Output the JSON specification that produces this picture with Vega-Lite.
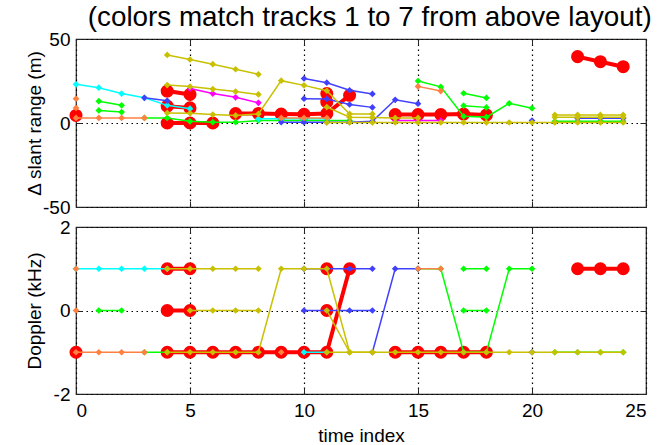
{
  "$schema": "https://vega.github.io/schema/vega-lite/v6.json",
  "padding": {"left": 24, "top": 3, "right": 0, "bottom": 0},
  "background": "white",
  "bounds": "flush",
  "title": {"text": "(colors match tracks 1 to 7 from above layout)", "fontSize": 27.8, "font": "Liberation Sans", "fontWeight": "normal", "color": "#000", "offset": -2, "anchor": "middle", "dx": 34},
  "config": {
    "view": {"stroke": "#262626", "strokeWidth": 1.2},
    "axis": {"domain": false, "tickColor": "#262626", "tickSize": -6, "labelFont": "Liberation Sans", "labelFontSize": 19, "labelColor": "#000", "labelExpr": "replace(datum.label, '\u2212', '-')", "titleFont": "Liberation Sans", "titleFontSize": 19, "titleFontWeight": "normal", "titleColor": "#000", "gridColor": "#000", "gridDash": [1.5, 3.5], "gridWidth": 1.2, "gridOpacity": 1}
  },
  "spacing": 20,
  "datasets": {
    "rng": [
      {"k":"7","s":"r0","t":0,"v":4.5},
      {"k":"7","s":"r1","t":4,"v":19},{"k":"7","s":"r1","t":5,"v":17},
      {"k":"7","s":"r2","t":4,"v":10},{"k":"7","s":"r2","t":5,"v":9},
      {"k":"7","s":"r3","t":4,"v":0},{"k":"7","s":"r3","t":5,"v":0},{"k":"7","s":"r3","t":6,"v":0},
      {"k":"7","s":"r4","t":7,"v":5.6},{"k":"7","s":"r4","t":8,"v":5.6},{"k":"7","s":"r4","t":9,"v":5.3},{"k":"7","s":"r4","t":10,"v":5.2},{"k":"7","s":"r4","t":11,"v":5.6},{"k":"7","s":"r4","t":12,"v":16.5},
      {"k":"7","s":"r5","t":11,"v":17.5},
      {"k":"7","s":"r6","t":11,"v":12.5},
      {"k":"7","s":"r7","t":14,"v":5},{"k":"7","s":"r7","t":15,"v":5},{"k":"7","s":"r7","t":16,"v":5},{"k":"7","s":"r7","t":17,"v":5.3},{"k":"7","s":"r7","t":18,"v":4.8},
      {"k":"7","s":"r8","t":22,"v":39.5},{"k":"7","s":"r8","t":23,"v":36.5},{"k":"7","s":"r8","t":24,"v":33.5},
      {"k":"3","s":"g1","t":1,"v":13},{"k":"3","s":"g1","t":2,"v":10.5},
      {"k":"3","s":"g2","t":1,"v":7.5},{"k":"3","s":"g2","t":2,"v":6.5},
      {"k":"3","s":"g3","t":3,"v":3},{"k":"3","s":"g3","t":4,"v":3},{"k":"3","s":"g3","t":5,"v":1},{"k":"3","s":"g3","t":6,"v":0.5},{"k":"3","s":"g3","t":7,"v":0.5},{"k":"3","s":"g3","t":8,"v":1.5},{"k":"3","s":"g3","t":9,"v":1.5},{"k":"3","s":"g3","t":10,"v":1.5},{"k":"3","s":"g3","t":11,"v":1.5},{"k":"3","s":"g3","t":12,"v":1.5},
      {"k":"3","s":"g4","t":15,"v":25},{"k":"3","s":"g4","t":16,"v":21.5},{"k":"3","s":"g4","t":17,"v":4},{"k":"3","s":"g4","t":18,"v":3.5},{"k":"3","s":"g4","t":19,"v":11.7},{"k":"3","s":"g4","t":20,"v":8.8},
      {"k":"3","s":"g5","t":17,"v":17.7},{"k":"3","s":"g5","t":18,"v":14.9},
      {"k":"3","s":"g6","t":17,"v":10.3},{"k":"3","s":"g6","t":18,"v":9.3},
      {"k":"3","s":"g7","t":21,"v":1},{"k":"3","s":"g7","t":22,"v":1},{"k":"3","s":"g7","t":23,"v":1},{"k":"3","s":"g7","t":24,"v":1},
      {"k":"1","s":"c1","t":0,"v":23},{"k":"1","s":"c1","t":1,"v":21},{"k":"1","s":"c1","t":2,"v":17.5},{"k":"1","s":"c1","t":3,"v":15},{"k":"1","s":"c1","t":4,"v":10.5},{"k":"1","s":"c1","t":5,"v":8.5},
      {"k":"1","s":"c3","t":8,"v":2.5},{"k":"1","s":"c3","t":9,"v":2.5},{"k":"1","s":"c3","t":10,"v":2.5},{"k":"1","s":"c3","t":11,"v":2.5},
      {"k":"2","s":"b0","t":3,"v":15},{"k":"2","s":"b0","t":4,"v":13.3},
      {"k":"2","s":"b1","t":10,"v":26.5},{"k":"2","s":"b1","t":11,"v":24},{"k":"2","s":"b1","t":12,"v":19.5},{"k":"2","s":"b1","t":13,"v":17.3},
      {"k":"2","s":"b2","t":10,"v":14.5},{"k":"2","s":"b2","t":11,"v":14.3},{"k":"2","s":"b2","t":12,"v":11},{"k":"2","s":"b2","t":13,"v":9.3},
      {"k":"2","s":"b3","t":9,"v":0.5},{"k":"2","s":"b3","t":10,"v":0.5},{"k":"2","s":"b3","t":11,"v":0.5},{"k":"2","s":"b3","t":12,"v":0.5},{"k":"2","s":"b3","t":13,"v":1},{"k":"2","s":"b3","t":14,"v":13.8},{"k":"2","s":"b3","t":15,"v":11.5},
      {"k":"2","s":"b4","t":20,"v":1.5},
      {"k":"2","s":"b5","t":22,"v":2.8},{"k":"2","s":"b5","t":23,"v":2.8},{"k":"2","s":"b5","t":24,"v":2.8},
      {"k":"4","s":"m1","t":5,"v":20.5},{"k":"4","s":"m1","t":6,"v":17.5},{"k":"4","s":"m1","t":7,"v":15.3},{"k":"4","s":"m1","t":8,"v":12},
      {"k":"4","s":"m2","t":14,"v":1.5},{"k":"4","s":"m2","t":15,"v":1.5},{"k":"4","s":"m2","t":16,"v":1.5},
      {"k":"5","s":"o0","t":0,"v":14.5},
      {"k":"5","s":"o1","t":0,"v":9},
      {"k":"5","s":"o2","t":0,"v":3},{"k":"5","s":"o2","t":1,"v":3},{"k":"5","s":"o2","t":2,"v":3},{"k":"5","s":"o2","t":3,"v":3},
      {"k":"5","s":"o3","t":9,"v":3},{"k":"5","s":"o3","t":10,"v":3},{"k":"5","s":"o3","t":11,"v":3},
      {"k":"5","s":"o4","t":15,"v":21.8},{"k":"5","s":"o4","t":16,"v":19},
      {"k":"6","s":"y1","t":4,"v":40.5},{"k":"6","s":"y1","t":5,"v":37.8},{"k":"6","s":"y1","t":6,"v":35},{"k":"6","s":"y1","t":7,"v":32},{"k":"6","s":"y1","t":8,"v":29},
      {"k":"6","s":"y2","t":4,"v":22.6},{"k":"6","s":"y2","t":5,"v":21.7},{"k":"6","s":"y2","t":6,"v":20.2},{"k":"6","s":"y2","t":7,"v":18.7},{"k":"6","s":"y2","t":8,"v":17},
      {"k":"6","s":"y3","t":4,"v":6},{"k":"6","s":"y3","t":5,"v":5.8},{"k":"6","s":"y3","t":6,"v":5},{"k":"6","s":"y3","t":7,"v":4.5},{"k":"6","s":"y3","t":8,"v":5.4},{"k":"6","s":"y3","t":9,"v":25.2},{"k":"6","s":"y3","t":10,"v":22.4},{"k":"6","s":"y3","t":11,"v":19.2},{"k":"6","s":"y3","t":12,"v":5.4},{"k":"6","s":"y3","t":13,"v":5.4},
      {"k":"6","s":"y4","t":11,"v":9.5},{"k":"6","s":"y4","t":12,"v":3.4},{"k":"6","s":"y4","t":13,"v":3.2},{"k":"6","s":"y4","t":14,"v":3},{"k":"6","s":"y4","t":15,"v":3},
      {"k":"6","s":"y5","t":11,"v":0.3},{"k":"6","s":"y5","t":12,"v":0.3},{"k":"6","s":"y5","t":13,"v":0.3},{"k":"6","s":"y5","t":14,"v":0.3},{"k":"6","s":"y5","t":15,"v":0.3},{"k":"6","s":"y5","t":16,"v":0.3},{"k":"6","s":"y5","t":17,"v":0.3},{"k":"6","s":"y5","t":18,"v":0.3},{"k":"6","s":"y5","t":19,"v":0.3},{"k":"6","s":"y5","t":20,"v":0.3},{"k":"6","s":"y5","t":21,"v":0.3},{"k":"6","s":"y5","t":22,"v":0.3},{"k":"6","s":"y5","t":23,"v":0.3},{"k":"6","s":"y5","t":24,"v":0.3},
      {"k":"6","s":"y6","t":21,"v":4.8},{"k":"6","s":"y6","t":22,"v":4.8},{"k":"6","s":"y6","t":23,"v":4.8},{"k":"6","s":"y6","t":24,"v":4.8},
      {"k":"6","s":"y7","t":21,"v":3.4},{"k":"6","s":"y7","t":22,"v":3.4},{"k":"6","s":"y7","t":23,"v":3.4},{"k":"6","s":"y7","t":24,"v":3.4}
    ],
    "dop": [
      {"k":"7","s":"r0","t":0,"v":-1},
      {"k":"7","s":"r1","t":4,"v":1},{"k":"7","s":"r1","t":5,"v":1},
      {"k":"7","s":"r2","t":4,"v":0},{"k":"7","s":"r2","t":5,"v":0},
      {"k":"7","s":"r3","t":4,"v":-1},{"k":"7","s":"r3","t":5,"v":-1},{"k":"7","s":"r3","t":6,"v":-1},{"k":"7","s":"r3","t":7,"v":-1},{"k":"7","s":"r3","t":8,"v":-1},{"k":"7","s":"r3","t":9,"v":-1},{"k":"7","s":"r3","t":10,"v":-1},{"k":"7","s":"r3","t":11,"v":-1},{"k":"7","s":"r3","t":12,"v":1},
      {"k":"7","s":"r5","t":11,"v":1},
      {"k":"7","s":"r6","t":11,"v":0},
      {"k":"7","s":"r7","t":14,"v":-1},{"k":"7","s":"r7","t":15,"v":-1},{"k":"7","s":"r7","t":16,"v":-1},{"k":"7","s":"r7","t":17,"v":-1},{"k":"7","s":"r7","t":18,"v":-1},
      {"k":"7","s":"r8","t":22,"v":1},{"k":"7","s":"r8","t":23,"v":1},{"k":"7","s":"r8","t":24,"v":1},
      {"k":"3","s":"g1","t":1,"v":0},{"k":"3","s":"g1","t":2,"v":0},
      {"k":"3","s":"g3","t":3,"v":-1},{"k":"3","s":"g3","t":4,"v":-1},
      {"k":"3","s":"g4","t":15,"v":1},{"k":"3","s":"g4","t":16,"v":1},{"k":"3","s":"g4","t":17,"v":-1},{"k":"3","s":"g4","t":18,"v":-1},{"k":"3","s":"g4","t":19,"v":1},{"k":"3","s":"g4","t":20,"v":1},
      {"k":"3","s":"g5","t":17,"v":1},{"k":"3","s":"g5","t":18,"v":1},
      {"k":"3","s":"g6","t":17,"v":0},{"k":"3","s":"g6","t":18,"v":0},
      {"k":"3","s":"g7","t":21,"v":-1},{"k":"3","s":"g7","t":22,"v":-1},{"k":"3","s":"g7","t":23,"v":-1},{"k":"3","s":"g7","t":24,"v":-1},
      {"k":"1","s":"c1","t":0,"v":1},{"k":"1","s":"c1","t":1,"v":1},{"k":"1","s":"c1","t":2,"v":1},{"k":"1","s":"c1","t":3,"v":1},{"k":"1","s":"c1","t":4,"v":1},
      {"k":"1","s":"c3","t":10,"v":-1},{"k":"1","s":"c3","t":11,"v":-1},
      {"k":"2","s":"b1","t":10,"v":1},{"k":"2","s":"b1","t":11,"v":1},{"k":"2","s":"b1","t":12,"v":1},{"k":"2","s":"b1","t":13,"v":1},
      {"k":"2","s":"b2","t":10,"v":0},{"k":"2","s":"b2","t":11,"v":0},{"k":"2","s":"b2","t":12,"v":0},{"k":"2","s":"b2","t":13,"v":0},
      {"k":"2","s":"b3","t":13,"v":-1},{"k":"2","s":"b3","t":14,"v":1},{"k":"2","s":"b3","t":15,"v":1},
      {"k":"2","s":"b4","t":20,"v":-1},
      {"k":"5","s":"o0","t":0,"v":1},
      {"k":"5","s":"o1","t":0,"v":0},
      {"k":"5","s":"o2","t":0,"v":-1},{"k":"5","s":"o2","t":1,"v":-1},{"k":"5","s":"o2","t":2,"v":-1},{"k":"5","s":"o2","t":3,"v":-1},
      {"k":"5","s":"o3","t":9,"v":-1},
      {"k":"5","s":"o4","t":15,"v":1},{"k":"5","s":"o4","t":16,"v":1},
      {"k":"6","s":"y1","t":4,"v":1},{"k":"6","s":"y1","t":5,"v":1},{"k":"6","s":"y1","t":6,"v":1},{"k":"6","s":"y1","t":7,"v":1},{"k":"6","s":"y1","t":8,"v":1},
      {"k":"6","s":"y2","t":5,"v":0},{"k":"6","s":"y2","t":6,"v":0},{"k":"6","s":"y2","t":7,"v":0},{"k":"6","s":"y2","t":8,"v":0},
      {"k":"6","s":"y3","t":4,"v":-1},{"k":"6","s":"y3","t":5,"v":-1},{"k":"6","s":"y3","t":6,"v":-1},{"k":"6","s":"y3","t":7,"v":-1},{"k":"6","s":"y3","t":8,"v":-1},{"k":"6","s":"y3","t":9,"v":1},{"k":"6","s":"y3","t":10,"v":1},{"k":"6","s":"y3","t":11,"v":1},{"k":"6","s":"y3","t":12,"v":-1},{"k":"6","s":"y3","t":13,"v":-1},
      {"k":"6","s":"y4","t":11,"v":0},{"k":"6","s":"y4","t":12,"v":-1},
      {"k":"6","s":"y5","t":11,"v":-1},{"k":"6","s":"y5","t":12,"v":-1},{"k":"6","s":"y5","t":13,"v":-1},{"k":"6","s":"y5","t":14,"v":-1},{"k":"6","s":"y5","t":15,"v":-1},{"k":"6","s":"y5","t":16,"v":-1},{"k":"6","s":"y5","t":17,"v":-1},{"k":"6","s":"y5","t":18,"v":-1},{"k":"6","s":"y5","t":19,"v":-1},{"k":"6","s":"y5","t":20,"v":-1},{"k":"6","s":"y5","t":21,"v":-1},{"k":"6","s":"y5","t":22,"v":-1},{"k":"6","s":"y5","t":23,"v":-1},{"k":"6","s":"y5","t":24,"v":-1}
    ]
  },
  "vconcat": [
    {
      "width": 570, "height": 168,
      "data": {"name": "rng"},
      "resolve": {"axis": {"x": "independent", "y": "independent"}},
      "layer": [
        {
          "transform": [{"filter": "datum.k == '7'"}],
          "mark": {"type": "line", "strokeWidth": 4, "color": "#ff0000"},
          "encoding": {
            "x": {"field": "t", "type": "quantitative", "scale": {"domain": [0, 25], "nice": false, "zero": false},
                  "axis": {"orient": "bottom", "values": [0,5,10,15,20,25], "labels": false, "title": null, "grid": true}},
            "y": {"field": "v", "type": "quantitative", "scale": {"domain": [-50, 50], "nice": false, "zero": false},
                  "axis": {"orient": "left", "values": [-50,0,50], "grid": true, "labelPadding": 12, "title": "Δ slant range (m)", "titlePadding": 3, "minExtent": 29, "maxExtent": 29}},
            "detail": {"field": "s"}
          }
        },
        {
          "transform": [{"filter": "datum.k == '7'"}],
          "mark": {"type": "point", "shape": "circle", "filled": true, "size": 170, "color": "#ff0000", "opacity": 1},
          "encoding": {
            "x": {"field": "t", "type": "quantitative", "axis": null},
            "y": {"field": "v", "type": "quantitative", "axis": null}
          }
        },
        {
          "transform": [{"filter": "datum.k != '7'"}],
          "mark": {"type": "line", "strokeWidth": 1.5},
          "encoding": {
            "x": {"field": "t", "type": "quantitative", "axis": {"orient": "top", "values": [0,5,10,15,20,25], "labels": false, "title": null, "grid": false}},
            "y": {"field": "v", "type": "quantitative", "axis": {"orient": "right", "values": [-50,0,50], "labels": false, "title": null, "grid": false}},
            "detail": {"field": "s"},
            "color": {"field": "k", "type": "nominal", "legend": null, "scale": {"domain": ["1","2","3","4","5","6"], "range": ["#00ffff","#4040ff","#00ff00","#ff00ff","#ff8040","#c8c000"]}}
          }
        },
        {
          "transform": [{"filter": "datum.k != '7'"}],
          "mark": {"type": "point", "shape": "diamond", "filled": true, "size": 45, "opacity": 1},
          "encoding": {
            "x": {"field": "t", "type": "quantitative", "axis": null},
            "y": {"field": "v", "type": "quantitative", "axis": null},
            "color": {"field": "k", "type": "nominal", "legend": null, "scale": {"domain": ["1","2","3","4","5","6"], "range": ["#00ffff","#4040ff","#00ff00","#ff00ff","#ff8040","#c8c000"]}}
          }
        }
      ]
    },
    {
      "width": 570, "height": 167,
      "data": {"name": "dop"},
      "resolve": {"axis": {"x": "independent", "y": "independent"}},
      "layer": [
        {
          "transform": [{"filter": "datum.k == '7'"}],
          "mark": {"type": "line", "strokeWidth": 4, "color": "#ff0000"},
          "encoding": {
            "x": {"field": "t", "type": "quantitative", "scale": {"domain": [0, 25], "nice": false, "zero": false},
                  "axis": {"orient": "bottom", "values": [0,5,10,15,20,25], "grid": true, "labelPadding": 13, "title": "time index", "titlePadding": 6}},
            "y": {"field": "v", "type": "quantitative", "scale": {"domain": [-2, 2], "nice": false, "zero": false},
                  "axis": {"orient": "left", "values": [-2,0,2], "grid": true, "labelPadding": 12, "title": "Doppler (kHz)", "titlePadding": 3, "minExtent": 29, "maxExtent": 29}},
            "detail": {"field": "s"}
          }
        },
        {
          "transform": [{"filter": "datum.k == '7'"}],
          "mark": {"type": "point", "shape": "circle", "filled": true, "size": 170, "color": "#ff0000", "opacity": 1},
          "encoding": {
            "x": {"field": "t", "type": "quantitative", "axis": null},
            "y": {"field": "v", "type": "quantitative", "axis": null}
          }
        },
        {
          "transform": [{"filter": "datum.k != '7'"}],
          "mark": {"type": "line", "strokeWidth": 1.5},
          "encoding": {
            "x": {"field": "t", "type": "quantitative", "axis": {"orient": "top", "values": [0,5,10,15,20,25], "labels": false, "title": null, "grid": false}},
            "y": {"field": "v", "type": "quantitative", "axis": {"orient": "right", "values": [-2,0,2], "labels": false, "title": null, "grid": false}},
            "detail": {"field": "s"},
            "color": {"field": "k", "type": "nominal", "legend": null, "scale": {"domain": ["1","2","3","4","5","6"], "range": ["#00ffff","#4040ff","#00ff00","#ff00ff","#ff8040","#c8c000"]}}
          }
        },
        {
          "transform": [{"filter": "datum.k != '7'"}],
          "mark": {"type": "point", "shape": "diamond", "filled": true, "size": 45, "opacity": 1},
          "encoding": {
            "x": {"field": "t", "type": "quantitative", "axis": null},
            "y": {"field": "v", "type": "quantitative", "axis": null},
            "color": {"field": "k", "type": "nominal", "legend": null, "scale": {"domain": ["1","2","3","4","5","6"], "range": ["#00ffff","#4040ff","#00ff00","#ff00ff","#ff8040","#c8c000"]}}
          }
        }
      ]
    }
  ]
}
